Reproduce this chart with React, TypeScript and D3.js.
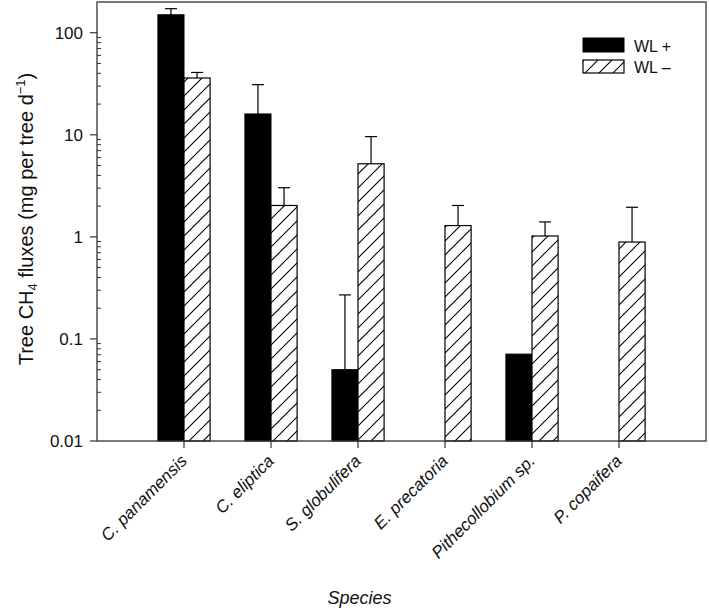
import React from "react";
import * as d3 from "d3";

const categories = [
  "C. panamensis",
  "C. eliptica",
  "S. globulifera",
  "E. precatoria",
  "Pithecollobium sp.",
  "P. copaifera",
];
const wlPlus: (number | null)[] = [150, 16, 0.05, null, 0.071, null];
const wlPlusErr: (number | null)[] = [22, 15, 0.22, null, null, null];
const wlMinus: (number | null)[] = [36, 2.03, 5.2, 1.29, 1.02, 0.89];
const wlMinusErr: (number | null)[] = [4.8, 1.0, 4.4, 0.74, 0.38, 1.06];
const yMajorTicks = [0.01, 0.1, 1, 10, 100];
const yTickLabels = ["0.01", "0.1", "1", "10", "100"];
const seriesNames = ["WL +", "WL \u2013"];

const W = 709;
const H = 612;
const left = 97;
const right = 706;
const top = 2;
const bottom = 441;
const FONT = "'Liberation Sans', Arial, Helvetica, sans-serif";

export default function App() {
  const x = d3.scaleLinear().domain([0, categories.length + 1]).range([left, right]);
  const y = d3.scaleLog().domain([0.01, 200]).range([bottom, top]);
  const barW = 0.3;
  const bw = x(barW) - x(0);

  const minorTicks: number[] = [];
  for (let e = -2; e <= 2; e++) {
    for (let m = 2; m <= 9; m++) {
      const v = m * Math.pow(10, e);
      if (v < 200) minorTicks.push(v);
    }
  }

  const capW = 12;

  return (
    <svg
      width={W}
      height={H}
      style={{ position: "absolute", left: 0, top: 0, background: "#fff" }}
      fontFamily={FONT}
    >
      <defs>
        <pattern id="hatch" patternUnits="userSpaceOnUse" width={14} height={14}>
          <rect width={14} height={14} fill="#fff" />
          <path d="M-2,2 L2,-2 M0,14 L14,0 M12,16 L16,12" stroke="#000" strokeWidth={1.1} />
        </pattern>
      </defs>
      <rect x={0} y={0} width={W} height={H} fill="#fff" />

      {/* bars */}
      {categories.map((c, i) => {
        const cx = x(i + 1);
        const els: React.ReactNode[] = [];
        const vp = wlPlus[i];
        if (vp != null) {
          els.push(
            <rect
              key="p"
              x={cx - bw}
              y={y(vp)}
              width={bw}
              height={bottom - y(vp)}
              fill="#000"
              stroke="#000"
              strokeWidth={1}
            />
          );
          const ep = wlPlusErr[i];
          if (ep != null) {
            const bx = cx - bw / 2;
            els.push(
              <g key="pe" stroke="#000" strokeWidth={1.2}>
                <line x1={bx} x2={bx} y1={y(vp)} y2={y(vp + ep)} />
                <line x1={bx - capW / 2} x2={bx + capW / 2} y1={y(vp + ep)} y2={y(vp + ep)} />
              </g>
            );
          }
        }
        const vm = wlMinus[i];
        if (vm != null) {
          els.push(
            <rect
              key="m"
              x={cx}
              y={y(vm)}
              width={bw}
              height={bottom - y(vm)}
              fill="url(#hatch)"
              stroke="#000"
              strokeWidth={1.2}
            />
          );
          const em = wlMinusErr[i];
          if (em != null) {
            const bx = cx + bw / 2;
            els.push(
              <g key="me" stroke="#000" strokeWidth={1.2}>
                <line x1={bx} x2={bx} y1={y(vm)} y2={y(vm + em)} />
                <line x1={bx - capW / 2} x2={bx + capW / 2} y1={y(vm + em)} y2={y(vm + em)} />
              </g>
            );
          }
        }
        return <g key={c}>{els}</g>;
      })}

      {/* frame */}
      <rect
        x={left}
        y={top}
        width={right - left}
        height={bottom - top}
        fill="none"
        stroke="#333"
        strokeWidth={1.3}
      />

      {/* y ticks */}
      {yMajorTicks.map((t, i) => (
        <g key={"yt" + t}>
          <line x1={left - 7} x2={left} y1={y(t)} y2={y(t)} stroke="#333" strokeWidth={1.2} />
          <text
            x={left - 14}
            y={y(t)}
            dy="0.36em"
            textAnchor="end"
            fontSize={17}
            fill="#111"
          >
            {yTickLabels[i]}
          </text>
        </g>
      ))}
      {minorTicks.map((t) => (
        <line
          key={"ym" + t}
          x1={left}
          x2={left + 4}
          y1={y(t)}
          y2={y(t)}
          stroke="#333"
          strokeWidth={1}
        />
      ))}

      {/* x ticks and labels */}
      {categories.map((c, i) => {
        const cx = x(i + 1);
        return (
          <g key={"xt" + c}>
            <line x1={cx} x2={cx} y1={bottom} y2={bottom + 7} stroke="#333" strokeWidth={1.2} />
            <text
              transform={`translate(${cx + 4},${bottom + 21}) rotate(-45)`}
              textAnchor="end"
              fontSize={17}
              fontStyle="italic"
              fill="#111"
            >
              {c}
            </text>
          </g>
        );
      })}

      {/* axis titles */}
      <text
        x={359.5}
        y={604}
        textAnchor="middle"
        fontSize={18}
        fontStyle="italic"
        fill="#111"
      >
        Species
      </text>
      <text
        transform={`translate(33,219) rotate(-90)`}
        textAnchor="middle"
        fontSize={20}
        fill="#111"
      >
        <tspan>Tree CH</tspan>
        <tspan fontSize={13} dy={4}>4</tspan>
        <tspan dy={-4}> fluxes (mg per tree d</tspan>
        <tspan fontSize={13} dy={-8}>{"\u22121"}</tspan>
        <tspan dy={8}>)</tspan>
      </text>

      {/* legend */}
      <g>
        <rect x={583} y={38} width={41} height={14} fill="#000" stroke="#000" />
        <rect x={583} y={60} width={41} height={13} fill="url(#hatch)" stroke="#000" strokeWidth={1.2} />
        <text x={634} y={52} fontSize={16} fill="#111">
          {seriesNames[0]}
        </text>
        <text x={634} y={73} fontSize={16} fill="#111">
          {seriesNames[1]}
        </text>
      </g>
    </svg>
  );
}
